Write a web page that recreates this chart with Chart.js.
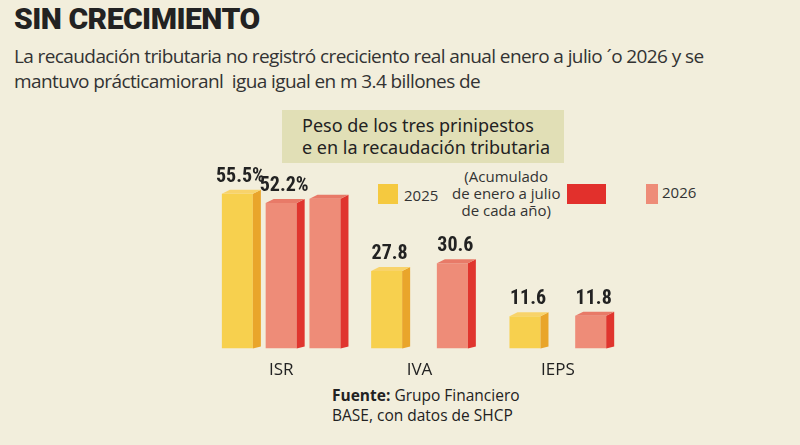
<!DOCTYPE html>
<html><head><meta charset="utf-8">
<script src="https://cdn.jsdelivr.net/npm/chart.js@4"></script>
<style>
body{margin:0;width:800px;height:445px;background:#f2eedc;font-family:'Open Sans',sans-serif;position:relative;overflow:hidden;color:#222}
.t{position:absolute;left:14px;top:1px;font-family:Roboto,sans-serif;font-weight:900;font-size:30px;letter-spacing:-0.5px;color:#222}
.s{position:absolute;left:14px;top:44px;font-size:19px;line-height:25px;letter-spacing:-0.6px;color:#333}
.box{position:absolute;left:282px;top:110px;width:282px;height:53px;background:#e1dfb6;font-family:'Noto Sans',sans-serif;font-size:18px;line-height:22px;padding:4px 0 0 20px;box-sizing:border-box;color:#222}
.lg{position:absolute;font-size:15px;color:#333}
.sw{position:absolute}
.src{position:absolute;left:332px;top:385px;font-size:15.5px;line-height:20px;color:#222}
#w{position:absolute;left:212px;top:145px;width:415px;height:238px}
</style></head><body>
<div class="t">SIN CRECIMIENTO</div>
<div class="s">La recaudación tributaria no registró creciciento real anual enero a julio ´o 2026 y se<br>mantuvo prácticamioranl&nbsp; igua igual en m 3.4 billones de</div>
<div class="box">Peso de los tres prinipestos<br>e en la recaudación tributaria</div>
<div class="sw" style="left:378px;top:184px;width:20px;height:20px;background:#f5c93f"></div>
<div class="lg" style="left:404px;top:185px">2025</div>
<div class="lg" style="left:452px;top:168px;line-height:17px;text-align:center">(Acumulado<br>de enero a julio<br>de cada año)</div>
<div class="sw" style="left:567px;top:184px;width:39px;height:20px;background:#e2302c"></div>
<div class="sw" style="left:646px;top:184px;width:12px;height:20px;background:#ee8c78"></div>
<div class="lg" style="left:662px;top:182px">2026</div>
<div class="src"><b>Fuente:</b> Grupo Financiero<br>BASE, con datos de SHCP</div>
<div id="w"><canvas id="c"></canvas></div>
<script>
const categories=['ISR','IVA','IEPS'];
const v2025=[55.5,27.8,11.6];
const v2026=[52.2,30.6,11.8];
const v2026b=[53.7,null,null];
const labels2025=['55.5%','27.8','11.6'];
const labels2026=['52.2%','30.6','11.8'];
const sideCol=['#e9a52b','#e0352e','#e0352e'];
const side={id:'side',afterDatasetsDraw(ch){const x=ch.ctx;ch.data.datasets.forEach((d,i)=>{ch.getDatasetMeta(i).data.forEach((b,j)=>{if(d.data[j]==null)return;const w=b.width,r=b.x+w/2,t=b.y,base=b.base,dx=8,dy=6;x.save();x.fillStyle=sideCol[i];x.beginPath();x.moveTo(r,t);x.lineTo(r+dx,t-dy+2);x.lineTo(r+dx,base-2);x.lineTo(r,base);x.closePath();x.fill();x.fillStyle=i==0?'#f8d36a':'#e87a68';x.beginPath();x.moveTo(b.x-w/2,t);x.lineTo(b.x-w/2+dx,t-dy+2);x.lineTo(r+dx,t-dy+2);x.lineTo(r,t);x.closePath();x.fill();
const lb=i==0?labels2025[j]:(i==1?labels2026[j]:null);if(lb){x.fillStyle='#222';x.font='bold 20px "Roboto Condensed","Liberation Sans Narrow",Roboto,sans-serif';x.textAlign='center';x.fillText(lb,b.x+3,t-12);}x.restore();});});}};
const bp=0.9,cp=0.95,mx=31;
new Chart(document.getElementById('c'),{type:'bar',data:{labels:categories,datasets:[
{label:'2025',data:v2025,backgroundColor:'#f7d04e',categoryPercentage:cp,barPercentage:bp,maxBarThickness:mx},
{label:'2026',data:v2026,backgroundColor:'#ee8c78',categoryPercentage:cp,barPercentage:bp,maxBarThickness:mx},
{label:'2026b',data:v2026b,backgroundColor:'#ee8c78',categoryPercentage:cp,barPercentage:bp,maxBarThickness:mx}]},
options:{responsive:true,maintainAspectRatio:false,animation:false,skipNull:true,
plugins:{legend:{display:false},tooltip:{enabled:false}},
scales:{y:{display:false,min:0,max:73},x:{grid:{display:false},border:{display:false},ticks:{color:'#222',font:{size:17,family:'Open Sans'}}}}},plugins:[side]});
</script></body></html>
